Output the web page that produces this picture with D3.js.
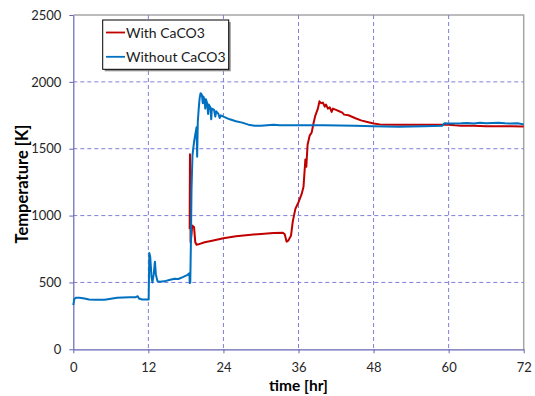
<!DOCTYPE html>
<html>
<head>
<meta charset="utf-8">
<script src="https://cdn.jsdelivr.net/npm/d3@7/dist/d3.min.js"></script>
<style>
  html, body { margin: 0; padding: 0; background: #fff; }
  svg { display: block; font-family: Lato, "Open Sans", sans-serif; }
</style>
</head>
<body>
<svg id="chart" width="535" height="396"></svg>
<script>
// Temperature history of the two runs (time in hours, temperature in K)
const withTime = [18.6, 18.65, 18.75, 18.9, 19.0, 19.3, 19.5, 19.7, 20, 21, 22, 24, 26, 28, 30, 32, 33.5, 33.8, 34.1, 34.4, 34.8, 35.1, 35.5, 36, 36.5, 36.8, 37.1, 37.25, 37.45, 37.8, 38.1, 38.4, 38.7, 39.1, 39.35, 39.6, 39.9, 40.2, 40.4, 40.7, 41, 41.3, 41.5, 42, 42.5, 43, 43.3, 44, 45, 46, 47, 48, 49, 52, 55, 58, 60, 61, 62, 64, 66, 68, 70, 72];
const withTemp = [900, 1458, 800, 860, 925, 915, 800, 782, 785, 800, 810, 830, 845, 855, 863, 870, 872, 860, 805, 815, 850, 960, 1050, 1100, 1160, 1215, 1420, 1365, 1530, 1600, 1620, 1690, 1750, 1800, 1855, 1840, 1845, 1815, 1830, 1800, 1810, 1775, 1800, 1790, 1780, 1770, 1755, 1750, 1730, 1712, 1700, 1688, 1682, 1680, 1680, 1680, 1680, 1675, 1672, 1672, 1668, 1668, 1668, 1666];

const withoutTime = [0, 0.15, 0.4, 1, 1.8, 2.5, 3.5, 5, 6, 7, 8, 9, 10, 10.3, 10.5, 11, 11.8, 12.05, 12.15, 12.3, 12.5, 12.65, 12.85, 13.05, 13.2, 13.45, 13.8, 14.5, 15.5, 16.2, 16.8, 17.5, 18.2, 18.55, 18.62, 18.7, 18.8, 18.9, 19.05, 19.3, 19.55, 19.7, 19.8, 19.9, 20.05, 20.2, 20.35, 20.55, 20.7, 20.8, 20.95, 21.1, 21.2, 21.4, 21.55, 21.65, 21.9, 22.05, 22.15, 22.5, 22.7, 22.85, 23.2, 23.4, 23.6, 24, 25, 26, 27, 28, 29, 30, 32, 33, 35, 40, 45, 48, 52, 56, 59, 59.3, 60, 62, 63, 64, 65, 66, 67, 68, 69, 70, 71, 72];
const withoutTemp = [330, 375, 385, 386, 380, 372, 370, 370, 378, 385, 388, 389, 390, 397, 380, 372, 372, 372, 720, 690, 540, 500, 560, 655, 560, 510, 505, 508, 520, 528, 526, 540, 555, 568, 495, 500, 800, 1200, 1450, 1550, 1620, 1660, 1440, 1700, 1800, 1880, 1915, 1905, 1840, 1890, 1870, 1800, 1870, 1840, 1760, 1830, 1810, 1720, 1800, 1790, 1740, 1780, 1760, 1730, 1750, 1740, 1720, 1705, 1695, 1680, 1672, 1672, 1680, 1675, 1675, 1675, 1672, 1668, 1665, 1668, 1672, 1690, 1688, 1690, 1693, 1688, 1695, 1690, 1692, 1695, 1690, 1688, 1690, 1682];

const xTicks = [0, 12, 24, 36, 48, 60, 72];
const yTicks = [0, 500, 1000, 1500, 2000, 2500];

const seriesNames = ["With CaCO3", "Without CaCO3"];
const seriesColors = ["#c00000", "#0070c0"];

const svg = d3.select("#chart");
const plotL = 73.3, plotR = 523.7, plotT = 15, plotB = 349.3;

const x = d3.scaleLinear().domain([0, 72]).range([plotL, plotR]);
const y = d3.scaleLinear().domain([0, 2500]).range([plotB, plotT]);

// plot frame (top and right edges)
svg.append("path")
  .attr("d", `M${plotL},${plotT}H${plotR}V${plotB}`)
  .attr("fill", "none").attr("stroke", "#a6a6a6").attr("stroke-width", 1.5);

// dashed gridlines
const grid = svg.append("g").attr("stroke", "#7f7fdb").attr("stroke-width", 1)
  .attr("stroke-dasharray", "4,3");
grid.selectAll(".gx").data(xTicks.slice(1, -1)).join("line")
  .attr("x1", d => x(d)).attr("x2", d => x(d)).attr("y1", plotT).attr("y2", plotB);
grid.selectAll(".gy").data(yTicks.slice(1, -1)).join("line")
  .attr("x1", plotL).attr("x2", plotR).attr("y1", d => y(d)).attr("y2", d => y(d));

// axes
const xAxis = svg.append("g").attr("transform", `translate(0,${plotB})`)
  .call(d3.axisBottom(x).tickValues(xTicks).tickFormat(d3.format("d"))
    .tickSize(4).tickPadding(9).tickSizeOuter(0));
const yAxis = svg.append("g").attr("transform", `translate(${plotL},0)`)
  .call(d3.axisLeft(y).tickValues(yTicks).tickFormat(d3.format("d"))
    .tickSize(4).tickPadding(8).tickSizeOuter(0));
[xAxis, yAxis].forEach(a => {
  a.select(".domain").attr("stroke", "#6666b3").attr("stroke-width", 1.2);
  a.selectAll(".tick line").attr("stroke", "#6666b3");
  a.selectAll(".tick text").attr("fill", "#262626").style("font-size", "13px")
    .style("font-family", "Lato, 'Open Sans', sans-serif");
});

// lines
const line = d3.line().x(d => x(d[0])).y(d => y(d[1]));
const withData = withTime.map((t, i) => [t, withTemp[i]]);
const withoutData = withoutTime.map((t, i) => [t, withoutTemp[i]]);

svg.append("path").datum(withData).attr("d", line)
  .attr("fill", "none").attr("stroke", seriesColors[0]).attr("stroke-width", 2)
  .attr("stroke-linejoin", "round");
svg.append("path").datum(withoutData).attr("d", line)
  .attr("fill", "none").attr("stroke", seriesColors[1]).attr("stroke-width", 2)
  .attr("stroke-linejoin", "round");

// axis titles
svg.append("text").attr("x", (plotL + plotR) / 2).attr("y", 391)
  .attr("text-anchor", "middle").attr("font-weight", "bold").attr("font-size", 15.5)
  .attr("fill", "#000").text("time [hr]");
svg.append("text").attr("transform", "translate(28,184) rotate(-90)")
  .attr("text-anchor", "middle").attr("font-weight", "bold").attr("font-size", 16.5)
  .attr("fill", "#000").text("Temperature [K]");

// legend
const lg = svg.append("g");
lg.append("rect").attr("x", 104.7).attr("y", 22).attr("width", 126).attr("height", 49.3)
  .attr("fill", "#8c8c8c");
lg.append("rect").attr("x", 102.7).attr("y", 20).attr("width", 126).attr("height", 49.3)
  .attr("fill", "#fff").attr("stroke", "#000").attr("stroke-width", 1);
seriesNames.forEach((name, i) => {
  const yy = 32.5 + i * 24.3;
  lg.append("line").attr("x1", 106).attr("x2", 125).attr("y1", yy).attr("y2", yy)
    .attr("stroke", seriesColors[i]).attr("stroke-width", 1.8);
  lg.append("text").attr("x", 126).attr("y", yy + 5).attr("font-size", 14)
    .attr("fill", "#1a1a1a").text(name);
});
</script>
</body>
</html>
